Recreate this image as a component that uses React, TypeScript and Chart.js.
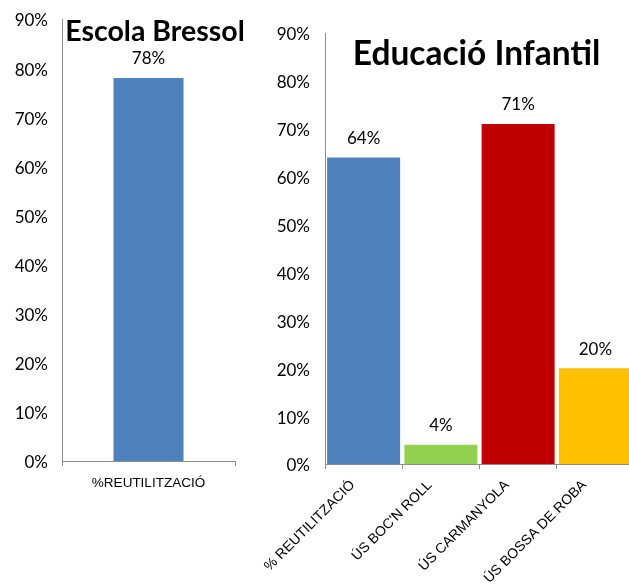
import React, { useEffect, useRef } from "react";
import { Chart, registerables } from "chart.js";

Chart.register(...registerables);

// ---- data ----
const ESCOLA_TITLE = "Escola Bressol";
const ESCOLA_CATEGORIES = ["%REUTILITZACIÓ"];
const ESCOLA_VALUES = [78];
const ESCOLA_COLORS = ["#4F81BD"];

const INFANTIL_TITLE = "Educació Infantil";
const INFANTIL_CATEGORIES = ["% REUTILITZACIÓ", "ÚS BOC'N ROLL", "ÚS CARMANYOLA", "ÚS BOSSA DE ROBA"];
const INFANTIL_VALUES = [64, 4, 71, 20];
const INFANTIL_COLORS = ["#4F81BD", "#92D050", "#C00000", "#FFC000"];

const Y_MIN = 0;
const Y_MAX = 90;
const Y_STEP = 10;

const AXIS_GREY = "#8C8C8C";
const LABEL_FONT = "Lato, 'Open Sans', sans-serif";
const CAT_FONT = "'Liberation Sans', Arial, sans-serif";

const panelDecor = {
  id: "panelDecor",
  afterDatasetsDraw(chart: any, _args: any, opts: any) {
    const ctx = chart.ctx;
    const area = chart.chartArea;
    ctx.save();
    ctx.fillStyle = "#000";
    ctx.textAlign = "center";
    ctx.textBaseline = "middle";
    ctx.font = `${opts.valueSize}px ${LABEL_FONT}`;
    const meta = chart.getDatasetMeta(0);
    const data = chart.data.datasets[0].data;
    meta.data.forEach((bar: any, i: number) => {
      ctx.fillText(`${data[i]}%`, bar.x, bar.y - opts.valueGap);
    });
    ctx.font = `bold ${opts.titleSize}px ${LABEL_FONT}`;
    ctx.textBaseline = "alphabetic";
    ctx.fillText(opts.title, (area.left + area.right) / 2 + opts.titleDx, area.top + opts.titleDy);
    ctx.restore();
  },
};

type PanelProps = {
  title: string;
  categories: string[];
  values: number[];
  colors: string[];
  width: number;
  height: number;
  left: number;
  padding: { top: number; right: number; left: number; bottom: number };
  yWidth: number;
  xHeight: number;
  yPad: number;
  barPct: number;
  rotate: boolean;
  catSize: number;
  catPad: number;
  catOffset: number;
  titleSize: number;
  titleDx: number;
  titleDy: number;
};

function BarPanel(p: PanelProps) {
  const ref = useRef<HTMLCanvasElement | null>(null);
  useEffect(() => {
    if (!ref.current) return;
    const chart = new Chart(ref.current, {
      type: "bar",
      data: {
        labels: p.categories,
        datasets: [
          {
            data: p.values,
            backgroundColor: p.colors,
            borderWidth: 0,
            barPercentage: p.barPct,
            categoryPercentage: 1,
          },
        ],
      },
      plugins: [panelDecor],
      options: {
        responsive: false,
        animation: false,
        devicePixelRatio: 1,
        layout: { padding: p.padding },
        plugins: {
          legend: { display: false },
          tooltip: { enabled: false },
          title: { display: false },
          // @ts-ignore
          panelDecor: {
            title: p.title,
            titleSize: p.titleSize,
            titleDx: p.titleDx,
            titleDy: p.titleDy,
            valueSize: 17,
            valueGap: 19,
          },
        },
        scales: {
          x: {
            grid: {
              display: true,
              drawOnChartArea: false,
              drawTicks: true,
              tickLength: 5,
              color: AXIS_GREY,
              offset: true,
            },
            border: { display: true, color: AXIS_GREY, width: 1 },
            ticks: {
              autoSkip: false,
              maxRotation: p.rotate ? 45 : 0,
              minRotation: p.rotate ? 45 : 0,
              padding: p.catPad,
              labelOffset: p.catOffset,
              color: "#000",
              font: { family: CAT_FONT, size: p.catSize },
            },
            afterFit: (s: any) => {
              s.height = p.xHeight;
              s.paddingLeft = 0;
              s.paddingRight = 0;
            },
          },
          y: {
            min: Y_MIN,
            max: Y_MAX,
            grid: { display: false, drawTicks: false },
            border: { display: true, color: AXIS_GREY, width: 1 },
            ticks: {
              stepSize: Y_STEP,
              padding: p.yPad,
              labelOffset: 2,
              color: "#000",
              font: { family: LABEL_FONT, size: 17 },
              callback: (v: any) => `${v}%`,
            },
            afterFit: (s: any) => {
              s.width = p.yWidth;
              s.paddingTop = 0;
              s.paddingBottom = 0;
            },
          },
        },
      },
    });
    return () => chart.destroy();
  }, []);
  return (
    <canvas
      ref={ref}
      width={p.width}
      height={p.height}
      style={{ position: "absolute", left: p.left, top: 0, width: p.width, height: p.height }}
    />
  );
}

export default function App() {
  return (
    <div
      style={{
        position: "absolute",
        left: 0,
        top: 0,
        width: 629,
        height: 587,
        overflow: "hidden",
        background: "#fff",
      }}
    >
      <BarPanel
        title={ESCOLA_TITLE}
        categories={ESCOLA_CATEGORIES}
        values={ESCOLA_VALUES}
        colors={ESCOLA_COLORS}
        width={255}
        height={500}
        left={0}
        padding={{ top: 19, right: 20, left: 0, bottom: 0 }}
        yWidth={62}
        xHeight={39}
        yPad={14}
        barPct={0.405}
        rotate={false}
        catSize={13.5}
        catPad={9}
        catOffset={0}
        titleSize={28.5}
        titleDx={6.5}
        titleDy={22}
      />
      <BarPanel
        title={INFANTIL_TITLE}
        categories={INFANTIL_CATEGORIES}
        values={INFANTIL_VALUES}
        colors={INFANTIL_COLORS}
        width={380}
        height={587}
        left={260}
        padding={{ top: 33, right: 6, left: 0, bottom: 0 }}
        yWidth={65}
        xHeight={123}
        yPad={15}
        barPct={0.945}
        rotate={true}
        catSize={14}
        catPad={8}
        catOffset={-11}
        titleSize={33.5}
        titleDx={-3}
        titleDy={32}
      />
    </div>
  );
}
